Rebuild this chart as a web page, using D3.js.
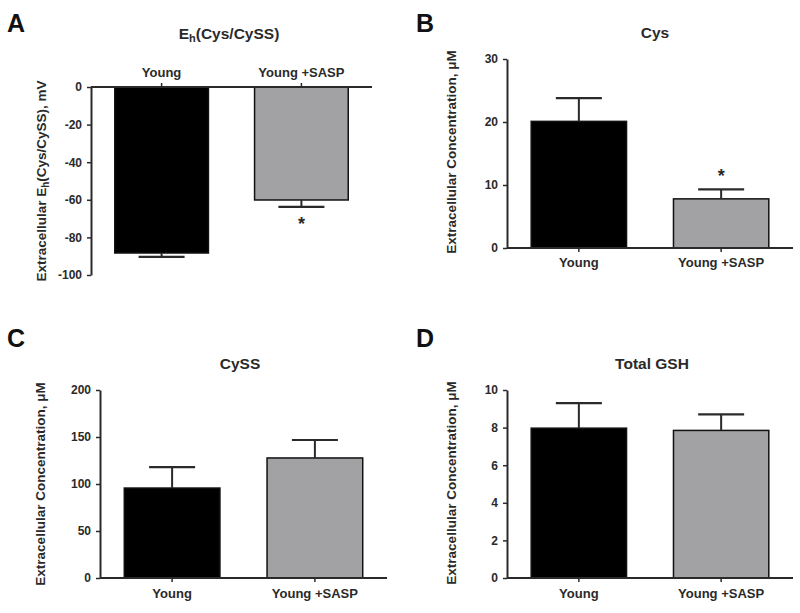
<!DOCTYPE html>
<html><head><meta charset="utf-8">
<script src="https://cdn.jsdelivr.net/npm/d3@7"></script>
<style>body{margin:0;background:#fff}svg{display:block}text{font-family:"Liberation Sans",Arial,sans-serif;font-weight:bold}</style>
</head><body>
<svg id="c" width="800" height="613"></svg>
<script>
const categories = ["Young", "Young +SASP"];
const ehMeans = [-88.3, -60.1];
const ehErr = [-90.4, -63.8];
const cysMeans = [20.1, 7.8];
const cysErr = [23.8, 9.3];
const cyssMeans = [95.7, 127.7];
const cyssErr = [118, 146.8];
const gshMeans = [7.97, 7.85];
const gshErr = [9.3, 8.7];
const ehTicks = [0, -20, -40, -60, -80, -100];
const cysTicks = [0, 10, 20, 30];
const cyssTicks = [0, 50, 100, 150, 200];
const gshTicks = [0, 2, 4, 6, 8, 10];
const barColors = ["#000000", "#a2a2a4"];
const significant = [false, true];

const svg = d3.select("#c");
const ink = "#2a2a2a";

function panel(o) {
  const g = svg.append("g");
  const x = d3.scaleBand().domain(categories).range([o.ax, o.xEnd]).paddingInner(0.33).paddingOuter(0.17);
  const y = d3.scaleLinear().domain(o.domain).range([o.yBottom, o.yTop]);
  const zero = y(0);
  g.selectAll("rect.bar").data(o.means).enter().append("rect")
    .attr("x", (d, i) => x(categories[i]))
    .attr("width", x.bandwidth())
    .attr("y", d => Math.min(y(d), zero))
    .attr("height", d => Math.abs(y(d) - zero))
    .attr("fill", (d, i) => barColors[i])
    .attr("stroke", "#111").attr("stroke-width", 1.5);
  o.means.forEach((m, i) => {
    const cx = x(categories[i]) + x.bandwidth() / 2;
    g.append("line").attr("x1", cx).attr("x2", cx).attr("y1", y(m)).attr("y2", y(o.err[i]))
      .attr("stroke", ink).attr("stroke-width", 2);
    g.append("line").attr("x1", cx - 23).attr("x2", cx + 23).attr("y1", y(o.err[i])).attr("y2", y(o.err[i]))
      .attr("stroke", ink).attr("stroke-width", 2.2);
    if (o.sig && significant[i]) {
      g.append("text").attr("x", cx).attr("y", y(o.err[i]) + o.starOff)
        .attr("text-anchor", "middle").attr("font-size", 18).attr("fill", ink).text("*");
    }
  });
  const ya = d3.axisLeft(y).tickValues(o.ticks).tickSize(4).tickSizeOuter(0).tickPadding(5)
    .tickFormat(d => String(d));
  const yg = g.append("g").attr("transform", `translate(${o.ax},0)`).call(ya);
  yg.select(".domain").attr("stroke", ink).attr("stroke-width", 2);
  yg.selectAll(".tick line").attr("stroke", ink).attr("stroke-width", 1.5);
  yg.selectAll(".tick text").attr("font-size", 12).attr("fill", ink).attr("font-family", "Liberation Sans, Arial").attr("font-weight", "bold");
  g.append("line").attr("x1", o.ax).attr("x2", o.xEnd).attr("y1", zero).attr("y2", zero)
    .attr("stroke", ink).attr("stroke-width", 2);
  categories.forEach((c, i) => {
    const cx = x(c) + x.bandwidth() / 2;
    g.append("line").attr("x1", cx).attr("x2", cx).attr("y1", zero).attr("y2", zero + (o.top ? -4 : 4))
      .attr("stroke", ink).attr("stroke-width", 1.5);
    g.append("text").attr("x", cx).attr("y", o.catY).attr("text-anchor", "middle")
      .attr("font-size", 13).attr("fill", ink).text(c);
  });
  const t = g.append("text").attr("x", o.titleX).attr("y", o.titleY).attr("text-anchor", "middle")
    .attr("font-size", 15.5).attr("fill", ink);
  if (o.sub) {
    t.append("tspan").text("E");
    t.append("tspan").attr("font-size", 11).attr("dy", 3).text("h");
    t.append("tspan").attr("dy", -3).text("(Cys/CySS)");
  } else t.text(o.title);
  const yl = g.append("text").attr("transform", `translate(${o.ylX},${o.ylY}) rotate(-90)`)
    .attr("text-anchor", "middle").attr("font-size", 13.5).attr("fill", ink);
  if (o.sub) {
    yl.append("tspan").text("Extracellular E");
    yl.append("tspan").attr("font-size", 10).attr("dy", 3).text("h");
    yl.append("tspan").attr("dy", -3).text("(Cys/CySS), mV");
  } else yl.text("Extracellular Concentration, \u03bcM");
  g.append("text").attr("x", o.letterX).attr("y", o.letterY).attr("font-size", 25).attr("fill", "#111").text(o.letter);
}

panel({letter: "A", letterX: 7, letterY: 32, sub: true, titleX: 229, titleY: 39,
  ax: 91, xEnd: 372, domain: [-100, 0], yBottom: 275, yTop: 87, ticks: ehTicks,
  means: ehMeans, err: ehErr, sig: true, starOff: 23, top: true, catY: 77, ylX: 46, ylY: 181});
panel({letter: "B", letterX: 416, letterY: 32, title: "Cys", titleX: 655, titleY: 38,
  ax: 507, xEnd: 793, domain: [0, 30], yBottom: 248, yTop: 59, ticks: cysTicks,
  means: cysMeans, err: cysErr, sig: true, starOff: -7, top: false, catY: 267, ylX: 456, ylY: 152});
panel({letter: "C", letterX: 7, letterY: 347, title: "CySS", titleX: 240, titleY: 369,
  ax: 100, xEnd: 387, domain: [0, 200], yBottom: 578, yTop: 390, ticks: cyssTicks,
  means: cyssMeans, err: cyssErr, sig: false, starOff: 0, top: false, catY: 598, ylX: 45, ylY: 484});
panel({letter: "D", letterX: 416, letterY: 347, title: "Total GSH", titleX: 652, titleY: 369,
  ax: 507, xEnd: 793, domain: [0, 10], yBottom: 578, yTop: 390, ticks: gshTicks,
  means: gshMeans, err: gshErr, sig: false, starOff: 0, top: false, catY: 598, ylX: 456, ylY: 483});
</script>
</body></html>
